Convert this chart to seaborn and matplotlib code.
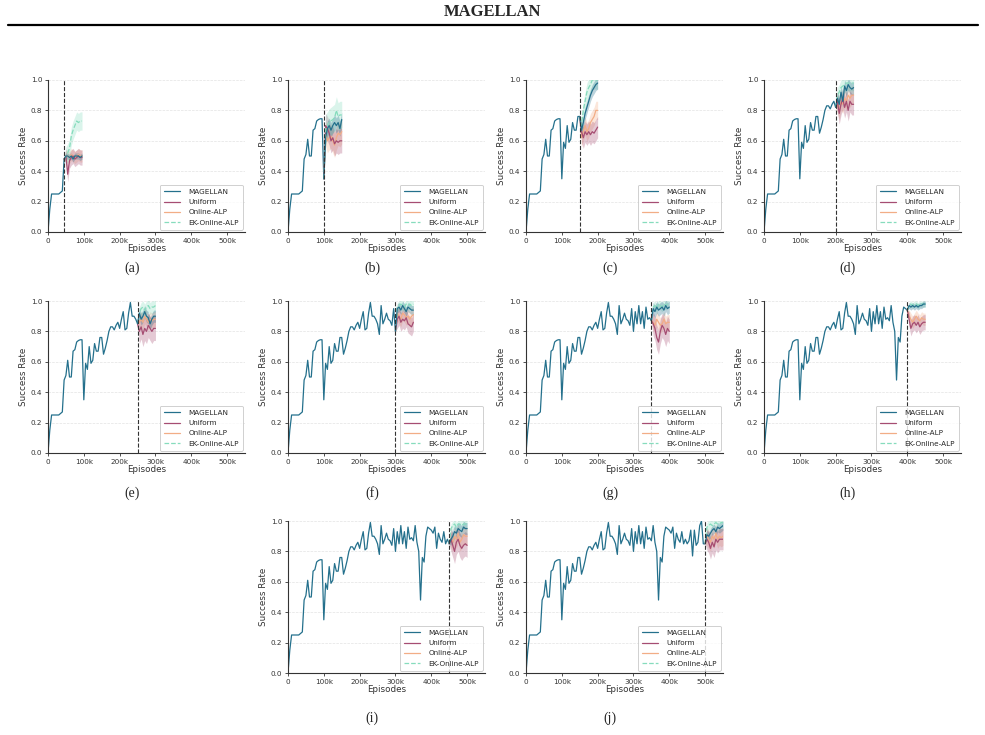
import numpy as np
import pandas as pd
import matplotlib
matplotlib.use("Agg")
import matplotlib.pyplot as plt
import seaborn as sns
from matplotlib.lines import Line2D

# ---------------- data ----------------
base_x_k = list(range(0, 505, 5))  # episodes (thousands)
base_y = [0.0, 0.15, 0.25, 0.25, 0.25, 0.25, 0.25, 0.26, 0.27, 0.48,
          0.51, 0.61, 0.50, 0.50, 0.67, 0.68, 0.73, 0.74, 0.745, 0.745,
          0.35, 0.59, 0.55, 0.70, 0.59, 0.61, 0.72, 0.67, 0.67, 0.76,
          0.76, 0.65, 0.69, 0.74, 0.80, 0.83, 0.83, 0.81, 0.84, 0.86,
          0.82, 0.88, 0.93, 0.81, 0.82, 0.92, 0.99, 0.90, 0.90, 0.88,
          0.85, 0.78, 0.97, 0.85, 0.88, 0.92, 0.88, 0.87, 0.84, 0.95,
          0.80, 0.93, 0.85, 0.97, 0.85, 0.93, 0.82, 0.96, 0.88, 0.89,
          0.87, 0.97, 0.86, 0.80, 0.48, 0.76, 0.73, 0.90, 0.96, 0.95,
          0.94, 0.92, 0.96, 0.82, 0.92, 0.88, 0.86, 0.93, 0.85, 0.88,
          0.85, 0.87, 0.94, 0.77, 0.94, 0.84, 0.86, 0.97, 1.00, 0.85,
          0.85]

panel_labels = ["(a)", "(b)", "(c)", "(d)", "(e)", "(f)", "(g)", "(h)", "(i)", "(j)"]
checkpoints_k = [45, 100, 150, 200, 250, 300, 350, 400, 450, 500]
post_offsets_k = [0, 5, 10, 15, 20, 25, 30, 35, 40, 45, 50]

methods = ["MAGELLAN", "Uniform", "Online-ALP", "EK-Online-ALP"]

magellan_post = [
    [0.48, 0.50, 0.50, 0.49, 0.50, 0.48, 0.50, 0.50, 0.50, 0.49, 0.50],
    [0.35, 0.62, 0.68, 0.70, 0.67, 0.70, 0.72, 0.70, 0.72, 0.68, 0.74],
    [0.76, 0.67, 0.72, 0.78, 0.82, 0.86, 0.90, 0.93, 0.95, 0.97, 0.98],
    [0.82, 0.88, 0.84, 0.92, 0.86, 0.96, 0.93, 0.97, 0.95, 0.94, 0.95],
    [0.85, 0.92, 0.88, 0.90, 0.93, 0.90, 0.89, 0.85, 0.88, 0.90, 0.90],
    [0.80, 0.95, 0.96, 0.94, 0.97, 0.95, 0.93, 0.96, 0.95, 0.94, 0.94],
    [0.87, 0.95, 0.93, 0.96, 0.94, 0.95, 0.96, 0.94, 0.97, 0.95, 0.96],
    [0.94, 0.97, 0.96, 0.97, 0.96, 0.97, 0.96, 0.97, 0.97, 0.98, 0.98],
    [0.85, 0.88, 0.90, 0.93, 0.92, 0.95, 0.94, 0.93, 0.96, 0.95, 0.95],
    [0.85, 0.91, 0.90, 0.92, 0.94, 0.95, 0.93, 0.96, 0.95, 0.96, 0.97],
]
uniform_post = [
    [0.48, 0.50, 0.38, 0.47, 0.49, 0.50, 0.48, 0.49, 0.50, 0.49, 0.49],
    [0.35, 0.70, 0.68, 0.65, 0.60, 0.62, 0.58, 0.60, 0.59, 0.60, 0.60],
    [0.76, 0.66, 0.62, 0.66, 0.64, 0.66, 0.64, 0.66, 0.65, 0.67, 0.69],
    [0.82, 0.86, 0.78, 0.84, 0.88, 0.82, 0.86, 0.80, 0.86, 0.84, 0.84],
    [0.85, 0.80, 0.83, 0.78, 0.82, 0.80, 0.84, 0.82, 0.80, 0.82, 0.82],
    [0.80, 0.88, 0.90, 0.86, 0.88, 0.87, 0.89, 0.85, 0.84, 0.83, 0.86],
    [0.87, 0.85, 0.82, 0.76, 0.73, 0.80, 0.84, 0.82, 0.78, 0.82, 0.80],
    [0.94, 0.88, 0.82, 0.85, 0.86, 0.84, 0.86, 0.83, 0.85, 0.86, 0.86],
    [0.85, 0.88, 0.84, 0.80, 0.86, 0.88, 0.84, 0.82, 0.84, 0.85, 0.84],
    [0.85, 0.88, 0.86, 0.82, 0.86, 0.83, 0.88, 0.86, 0.88, 0.88, 0.88],
]
online_post = [
    [0.48, 0.50, 0.50, 0.49, 0.51, 0.50, 0.49, 0.50, 0.51, 0.50, 0.50],
    [0.35, 0.65, 0.60, 0.62, 0.63, 0.60, 0.57, 0.62, 0.65, 0.64, 0.66],
    [0.76, 0.62, 0.66, 0.70, 0.66, 0.68, 0.72, 0.74, 0.76, 0.80, 0.80],
    [0.82, 0.84, 0.80, 0.86, 0.84, 0.88, 0.86, 0.90, 0.88, 0.90, 0.90],
    [0.85, 0.86, 0.88, 0.86, 0.90, 0.88, 0.86, 0.88, 0.87, 0.88, 0.88],
    [0.80, 0.92, 0.90, 0.88, 0.92, 0.91, 0.89, 0.90, 0.88, 0.90, 0.91],
    [0.87, 0.86, 0.84, 0.88, 0.86, 0.84, 0.85, 0.88, 0.85, 0.86, 0.86],
    [0.94, 0.90, 0.88, 0.86, 0.88, 0.90, 0.88, 0.87, 0.89, 0.88, 0.88],
    [0.85, 0.88, 0.86, 0.90, 0.88, 0.92, 0.86, 0.88, 0.91, 0.90, 0.90],
    [0.85, 0.90, 0.88, 0.86, 0.90, 0.88, 0.92, 0.88, 0.90, 0.89, 0.90],
]
ek_post = [
    [0.48, 0.50, 0.52, 0.55, 0.63, 0.67, 0.70, 0.73, 0.72, 0.73, 0.73],
    [0.35, 0.68, 0.70, 0.72, 0.73, 0.74, 0.75, 0.80, 0.76, 0.77, 0.77],
    [0.76, 0.70, 0.80, 0.86, 0.92, 0.95, 0.97, 1.00, 1.00, 1.00, 1.00],
    [0.82, 0.90, 0.92, 0.95, 0.96, 0.97, 0.98, 0.98, 0.98, 0.98, 0.98],
    [0.85, 0.92, 0.95, 0.96, 0.94, 0.96, 0.97, 0.95, 0.96, 0.96, 0.97],
    [0.80, 0.96, 0.97, 0.98, 0.97, 0.96, 0.98, 0.97, 0.98, 0.97, 0.98],
    [0.87, 0.96, 0.97, 0.95, 0.98, 0.97, 0.96, 0.98, 0.97, 0.98, 0.98],
    [0.94, 0.97, 0.98, 0.97, 0.98, 0.98, 0.97, 0.98, 0.98, 0.98, 0.98],
    [0.85, 0.95, 0.97, 0.98, 0.96, 0.98, 0.98, 0.97, 0.98, 0.98, 0.98],
    [0.85, 0.96, 0.97, 0.98, 0.97, 0.98, 0.99, 0.98, 0.98, 0.99, 0.99],
]
# band half-widths (one per panel)
magellan_band = [0.02, 0.05, 0.04, 0.04, 0.04, 0.03, 0.04, 0.02, 0.04, 0.03]
uniform_band = [0.05, 0.08, 0.07, 0.07, 0.08, 0.06, 0.08, 0.05, 0.08, 0.07]
online_band = [0.04, 0.08, 0.06, 0.06, 0.05, 0.05, 0.05, 0.04, 0.06, 0.06]
ek_band = [0.06, 0.09, 0.06, 0.05, 0.04, 0.03, 0.03, 0.02, 0.03, 0.03]

x_ticks_k = [0, 100, 200, 300, 400, 500]
x_tick_labels = ["0", "100k", "200k", "300k", "400k", "500k"]
y_ticks = [0.0, 0.2, 0.4, 0.6, 0.8, 1.0]

# ---------------- style ----------------
sns.set_theme(style="ticks")
plt.rcParams["font.family"] = ["DejaVu Sans"]

colors = {
    "MAGELLAN": "#24708c",
    "Uniform": "#a64d72",
    "Online-ALP": "#f2ad86",
    "EK-Online-ALP": "#86dcbd",
}
styles = {"MAGELLAN": "-", "Uniform": "-", "Online-ALP": "-", "EK-Online-ALP": "--"}

post_data = {"MAGELLAN": magellan_post, "Uniform": uniform_post,
             "Online-ALP": online_post, "EK-Online-ALP": ek_post}
band_data = {"MAGELLAN": magellan_band, "Uniform": uniform_band,
             "Online-ALP": online_band, "EK-Online-ALP": ek_band}

W, H = 985, 735
fig = plt.figure(figsize=(W / 100, H / 100), dpi=100)

col_left = [48, 288, 526, 764]
row_top = [80, 301, 521]
ax_w, ax_h = 197, 152
caption_y = [268, 493, 718]
positions = [(0, 0), (0, 1), (0, 2), (0, 3),
             (1, 0), (1, 1), (1, 2), (1, 3),
             (2, 1), (2, 2)]

base_df = pd.DataFrame({"x": np.array(base_x_k) * 1000, "y": base_y})

for i, (r, c) in enumerate(positions):
    left = col_left[c] / W
    bottom = 1 - (row_top[r] + ax_h) / H
    ax = fig.add_axes([left, bottom, ax_w / W, ax_h / H])
    cp = checkpoints_k[i]

    # base curve up to checkpoint
    bsub = base_df[base_df["x"] <= cp * 1000]
    sns.lineplot(data=bsub, x="x", y="y", ax=ax, color=colors["MAGELLAN"],
                 linewidth=0.9, legend=False)

    xs = np.array([(cp + o) * 1000 for o in post_offsets_k])
    order = ["Online-ALP", "Uniform", "EK-Online-ALP", "MAGELLAN"]
    for m in order:
        yv = np.array(post_data[m][i])
        hw = np.full(len(yv), band_data[m][i])
        hw[0] = 0.0
        ax.fill_between(xs, yv - hw, yv + hw, color=colors[m], alpha=0.3,
                        linewidth=0)
    for m in order:
        df = pd.DataFrame({"x": xs, "y": post_data[m][i]})
        sns.lineplot(data=df, x="x", y="y", ax=ax, color=colors[m],
                     linestyle=styles[m], linewidth=0.9, legend=False)

    ax.axvline(cp * 1000, color="#333333", linestyle="--", linewidth=0.8)

    ax.set_xlim(0, 550000)
    ax.set_ylim(0, 1.0)
    ax.set_xticks([t * 1000 for t in x_ticks_k])
    ax.set_xticklabels(x_tick_labels)
    ax.set_yticks(y_ticks)
    ax.set_yticklabels([f"{v:.1f}" for v in y_ticks])
    ax.tick_params(labelsize=5.2, length=2.5, width=0.6, pad=1.5, colors="#333333")
    ax.yaxis.grid(True, linestyle="--", linewidth=0.5, color="#e3e3e3")
    ax.set_axisbelow(True)
    ax.set_xlabel("Episodes", fontsize=6.3, labelpad=0.5, color="#333333")
    ax.set_ylabel("Success Rate", fontsize=6.3, labelpad=2, color="#333333")
    for s in ["top", "right"]:
        ax.spines[s].set_visible(False)
    for s in ["left", "bottom"]:
        ax.spines[s].set_linewidth(0.8)
        ax.spines[s].set_color("#333333")

    handles = [Line2D([0], [0], color=colors[m], linestyle=styles[m], lw=0.9)
               for m in methods]
    leg = ax.legend(handles, methods, loc="lower right", fontsize=5.2,
                    frameon=True, handlelength=2.2, labelspacing=0.6,
                    borderpad=0.55, borderaxespad=0.3, handletextpad=1.2)
    leg.get_frame().set_edgecolor("#bbbbbb")
    leg.get_frame().set_linewidth(0.6)

    fig.text((col_left[c] + 84) / W, 1 - caption_y[r] / H, panel_labels[i],
             ha="center", va="center", fontsize=10, family="Liberation Serif")

fig.text(0.5, 1 - 12 / H, "MAGELLAN", ha="center", va="center", fontsize=12,
         fontweight="bold", family="Liberation Serif")
fig.add_artist(Line2D([8 / W, 978 / W], [1 - 25 / H, 1 - 25 / H],
                      color="black", linewidth=1.6, transform=fig.transFigure))

fig.savefig("out.png", dpi=100)
